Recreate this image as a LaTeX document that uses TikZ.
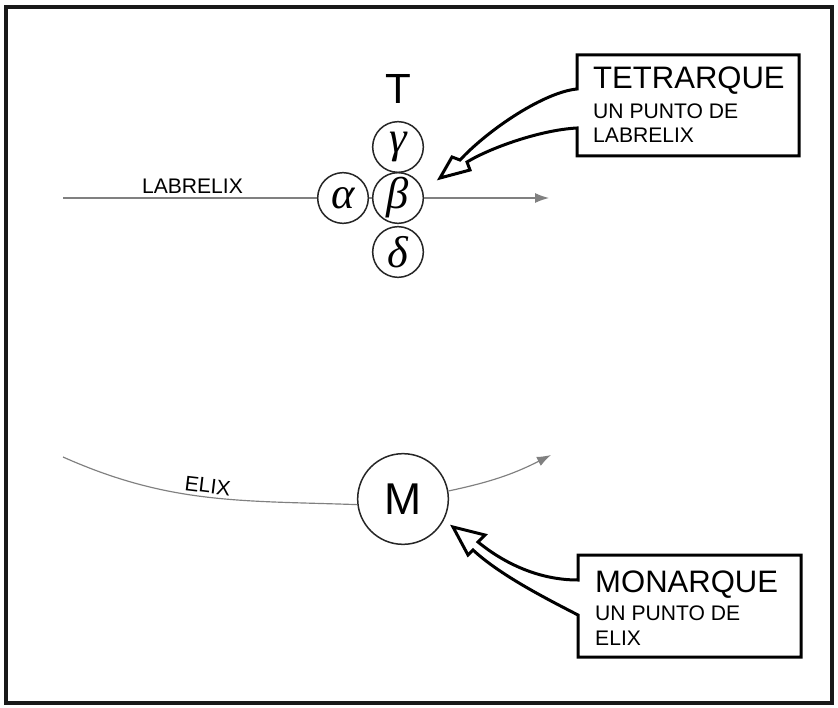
\documentclass[tikz,border=0pt]{standalone}
\usepackage{fontspec}
\setmainfont{Liberation Sans}
\newfontfamily\greekfont{Liberation Serif}
\usetikzlibrary{positioning,arrows.meta}
\tikzset{
        frame/.style={draw=black!90, line width=1.4mm},
        greek/.style={circle, draw=black!85, line width=0.45mm, minimum size=15.2mm, inner sep=0pt, font=\fontsize{38}{38}\selectfont\greekfont\itshape},
        mono/.style={circle, draw=black!85, line width=0.45mm, minimum size=27.2mm, inner sep=0pt, font=\fontsize{38}{38}\selectfont},
        bigletter/.style={inner sep=0pt, font=\fontsize{36}{36}\selectfont},
        helix/.style={draw=black!50, line width=0.35mm},
        helixarrow/.style={-{Latex[length=4.2mm,width=3mm]}},
        linetext/.style={font=\fontsize{18}{18}\selectfont},
        callout/.style={draw=black, line width=0.9mm, fill=white},
        calltitle/.style={anchor=base west, inner sep=0pt, font=\fontsize{26.5}{26.5}\selectfont},
        callsub/.style={anchor=base west, inner sep=0pt, font=\fontsize{18}{18}\selectfont}
          }
\begin{document}
\begin{tikzpicture}[x=0.3mm, y=-0.3mm]
  \useasboundingbox[fill=white] (0,0) rectangle (838,707);
  \draw[frame] (6,7) rectangle (832,703);

  % tetrarque
  \node[greek] (beta) at (398,198) {β};
  \node[greek] (alpha) at (343,198) {α};
  \node[greek] (gamma) at (398,147) {γ};
  \node[greek] (delta) at (398,252) {δ};
  \node[bigletter, above=5.2mm of gamma] (T) {T};

  \coordinate (lstart) at (63,198);
  \coordinate (lend) at (549,198);
  \draw[helix] (lstart) -- node[linetext, above, pos=0.51] (labrelix) {LABRELIX} (alpha);
  \draw[helix] (alpha) -- (beta);
  \draw[helix, helixarrow] (beta) -- (lend);

  \draw[callout] (577,89) -- (577,55) -- (799,55) -- (799,156) -- (577,156) -- (577,128)
    .. controls (540,130) and (490,148) .. (467,162) -- (470,170) -- (440,178) -- (452,157) -- (460,160)
    .. controls (490,128) and (545,92) .. (577,89) -- cycle;
  \node[calltitle] (tetrarque) at (593,89) {TETRARQUE};
  \node[callsub] (tetrasub) at (593,119) {UN PUNTO DE};
  \node[callsub] (tetrahelix) at (593,143) {LABRELIX};

  % monarque
  \node[mono] (M) at (403,499) {M};
  \coordinate (estart) at (63,457);
  \coordinate (eend) at (551,455);
  \draw[helix] (estart) to[out=-24, in=178] node[linetext, above, sloped, pos=0.5, inner sep=3pt] (elix) {ELIX} (M.187);
  \draw[helix, helixarrow] (M.10) to[out=12, in=207] (eend);

  \draw[callout] (578,580) -- (578,555) -- (801,555) -- (801,657) -- (578,657) -- (578,615)
    .. controls (545,598) and (500,575) .. (473,550) -- (468,555) -- (453,527) -- (485,535) -- (478,542)
    .. controls (500,560) and (535,580) .. (578,580) -- cycle;
  \node[calltitle] (monarque) at (595,592) {MONARQUE};
  \node[callsub] (monosub) at (595,620) {UN PUNTO DE};
  \node[callsub] (monohelix) at (595,645) {ELIX};
\end{tikzpicture}
\end{document}
